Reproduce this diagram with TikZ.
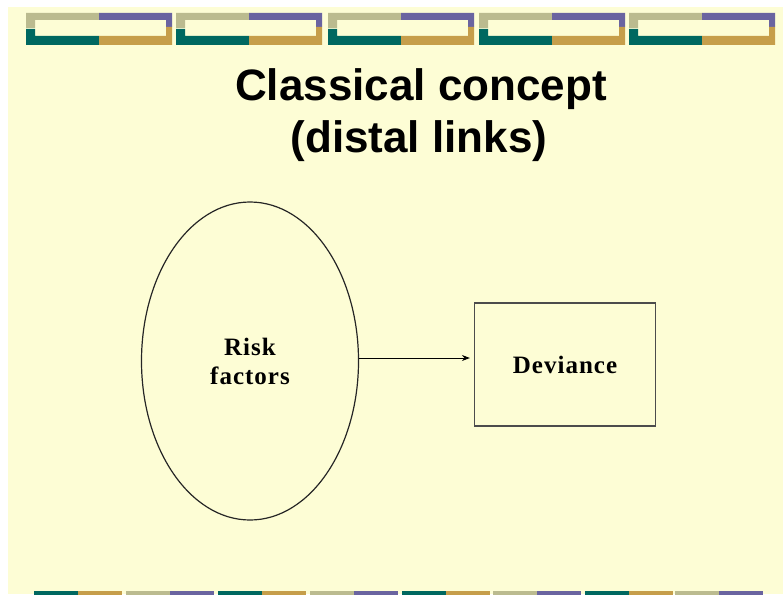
\documentclass[tikz,border=0pt]{standalone}
\usepackage{fontspec}
\setmainfont{Liberation Serif}
\newfontfamily\headfont{Liberation Sans}
\newfontfamily\boxfont[LetterSpace=4]{Liberation Serif}
\usetikzlibrary{arrows.meta,shapes}
\definecolor{cream}{RGB}{253,253,213}
\definecolor{olivegrey}{RGB}{187,187,143}
\definecolor{slatepurple}{RGB}{106,100,160}
\definecolor{darkteal}{RGB}{0,104,96}
\definecolor{ochre}{RGB}{198,158,74}
\tikzstyle{heading}=[font=\headfont\bfseries\fontsize{44}{52}\selectfont,anchor=base]
\tikzstyle{cause}=[ellipse,draw=black!85,line width=1.2pt,minimum width=217pt,minimum height=318pt,inner sep=0pt,align=center,font=\boxfont\bfseries\fontsize{25}{29}\selectfont]
\tikzstyle{effect}=[rectangle,draw=black!70,line width=1.2pt,minimum width=181pt,minimum height=123pt,font=\boxfont\bfseries\fontsize{25}{29}\selectfont]
\tikzstyle{link}=[-{Stealth[length=8pt,width=6pt]},line width=1pt,shorten >=4pt]

\begin{document}
\begin{tikzpicture}[x=1pt,y=-1pt]
\useasboundingbox (0,0) rectangle (783,594);
\fill[cream] (8,7) rectangle (783,594);
% frames along the top
\foreach \x in {26,176,328,479,629}{
  \fill[olivegrey] (\x,13) rectangle ++(73,7) (\x,13) rectangle ++(9,15);
  \fill[slatepurple] (\x+73,13) rectangle ++(73,7) (\x+140,13) rectangle ++(6,14);
  \fill[darkteal] (\x,36) rectangle ++(73,9) (\x,29) rectangle ++(9,16);
  \fill[ochre] (\x+73,36) rectangle ++(73,9) (\x+140,27) rectangle ++(6,18);
}
% strip along the bottom
\foreach \x/\ca/\cb in {34/darkteal/ochre,126/olivegrey/slatepurple,218/darkteal/ochre,310/olivegrey/slatepurple,
  402/darkteal/ochre,493/olivegrey/slatepurple,585/darkteal/ochre,675/olivegrey/slatepurple}{
  \fill[\ca] (\x,591) rectangle ++(44,4);
  \fill[\cb] (\x+44,591) rectangle ++(44,4);
}
\node[heading] (T1) at (421,100) {Classical concept};
\node[heading] (T2) at (419,152) {(distal links)};
\node[cause] (R) at (250,361) {Risk\\factors};
\node[effect] (D) at (565,364.5) {Deviance};
\draw[link] (R.east |- 0,358) -- (D.west |- 0,358);
\end{tikzpicture}
\end{document}
